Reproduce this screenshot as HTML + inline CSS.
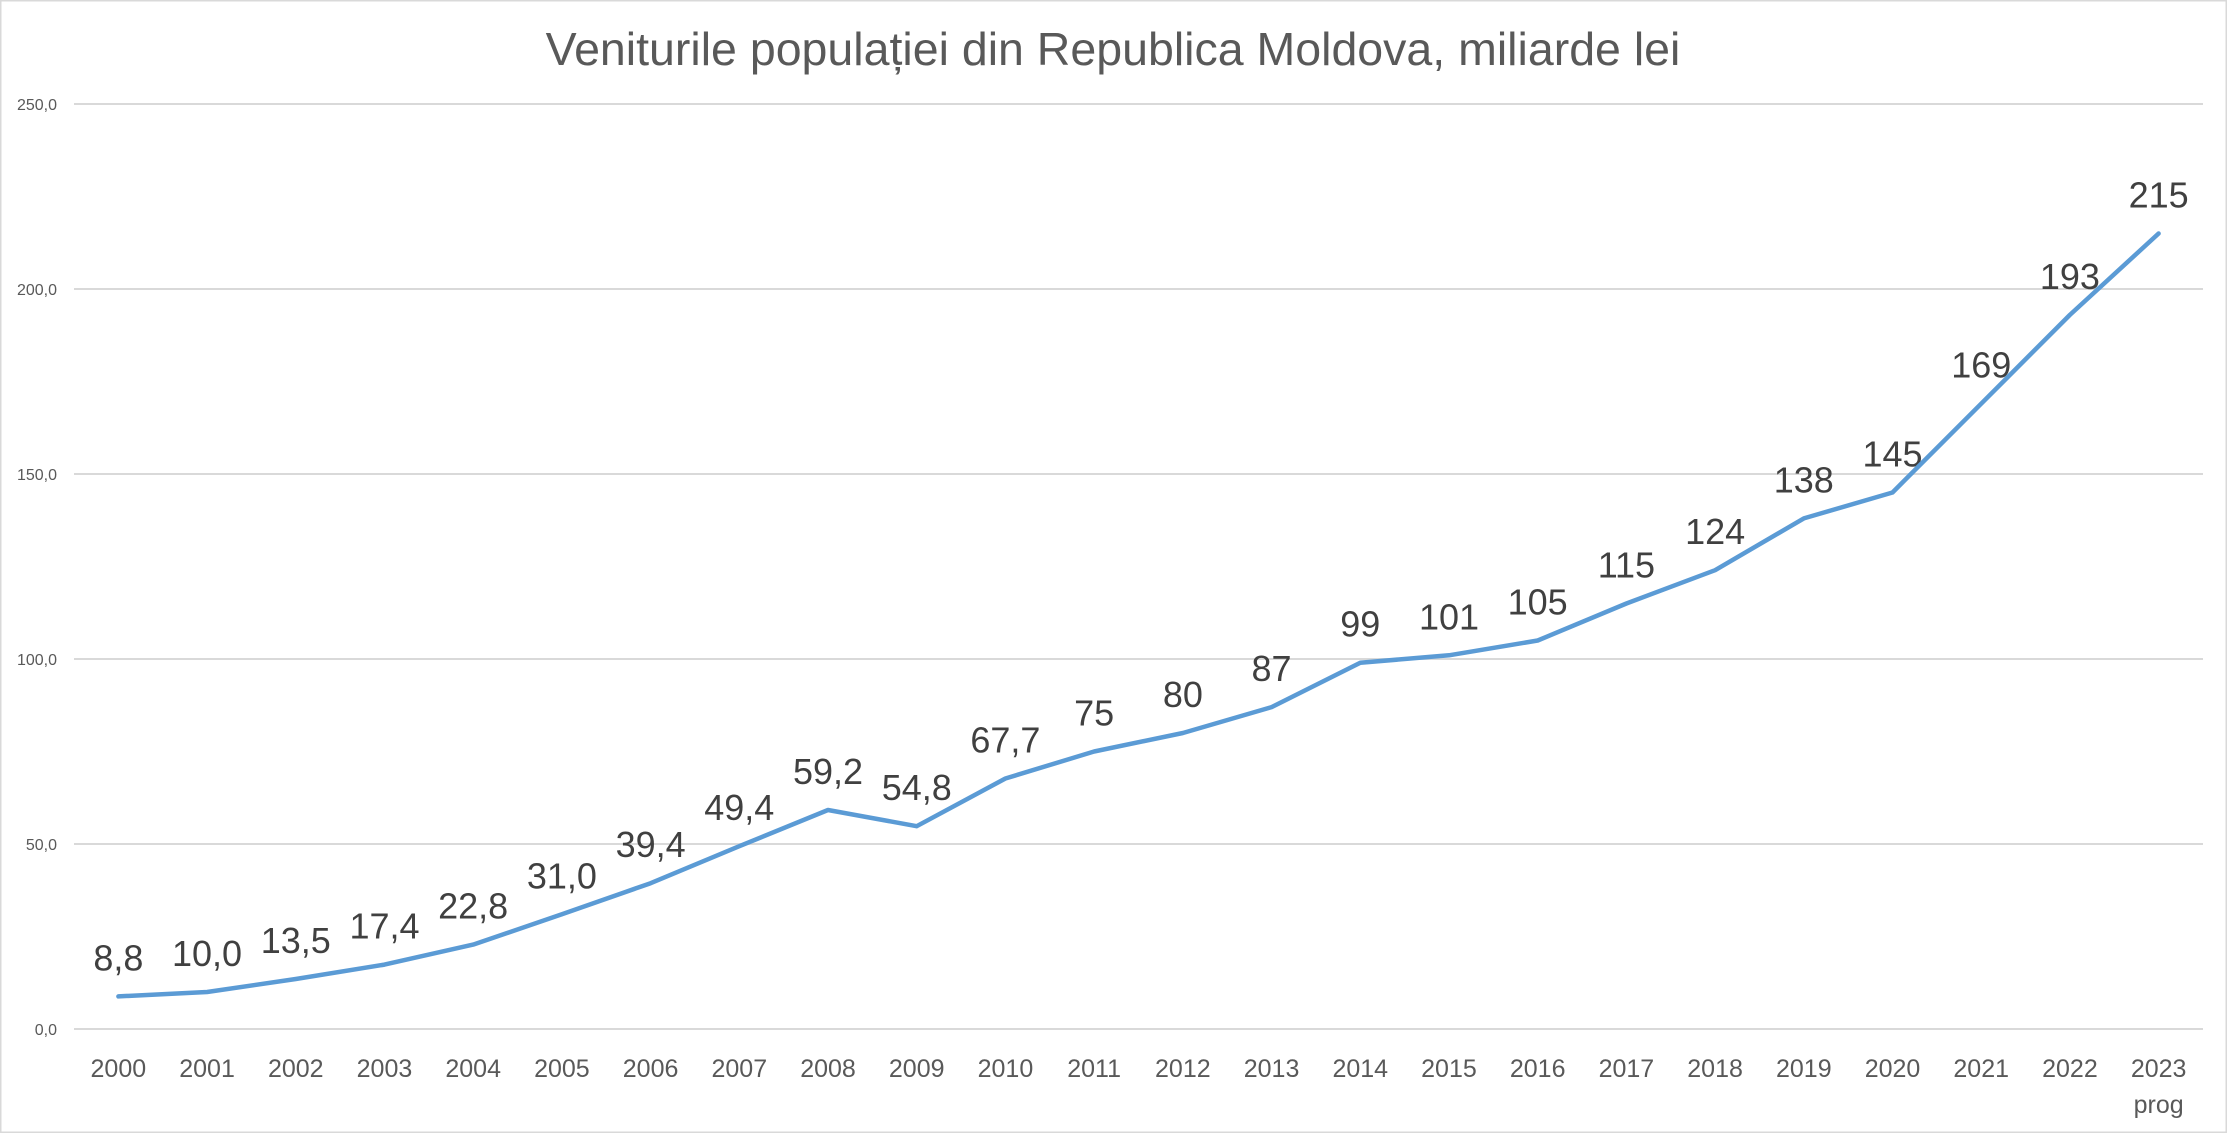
<!DOCTYPE html>
<html><head><meta charset="utf-8"><style>
html,body{margin:0;padding:0;background:#fff;}
svg{display:block;}
</style></head><body>
<svg width="2227" height="1133" viewBox="0 0 2227 1133" xmlns="http://www.w3.org/2000/svg" font-family="Liberation Sans, sans-serif">
<rect x="0.5" y="0.5" width="2226" height="1132" fill="#fff" stroke="#d9d9d9" stroke-width="2"/>
<text x="1113" y="65" text-anchor="middle" font-size="46.5" fill="#595959">Veniturile populației din Republica Moldova, miliarde lei</text>
<g stroke="#d9d9d9" stroke-width="2">
<line x1="74" y1="104" x2="2203" y2="104"/>
<line x1="74" y1="289" x2="2203" y2="289"/>
<line x1="74" y1="474" x2="2203" y2="474"/>
<line x1="74" y1="659" x2="2203" y2="659"/>
<line x1="74" y1="844" x2="2203" y2="844"/>
<line x1="74" y1="1029" x2="2203" y2="1029"/>
</g>
<g font-size="16" fill="#595959" text-anchor="end">
<text x="57" y="110">250,0</text>
<text x="57" y="295">200,0</text>
<text x="57" y="480">150,0</text>
<text x="57" y="665">100,0</text>
<text x="57" y="850">50,0</text>
<text x="57" y="1035">0,0</text>
</g>
<g id="c"></g>
<script>
var vals=[8.8,10.0,13.5,17.4,22.8,31.0,39.4,49.4,59.2,54.8,67.7,75,80,87,99,101,105,115,124,138,145,169,193,215];
var labs=["8,8","10,0","13,5","17,4","22,8","31,0","39,4","49,4","59,2","54,8","67,7","75","80","87","99","101","105","115","124","138","145","169","193","215"];
var ns="http://www.w3.org/2000/svg",g=document.getElementById("c");
var step=2129/24,pts=[];
function t(x,y,s,fs,col){var e=document.createElementNS(ns,"text");e.setAttribute("x",x);e.setAttribute("y",y);e.setAttribute("text-anchor","middle");e.setAttribute("font-size",fs);e.setAttribute("fill",col);e.textContent=s;g.appendChild(e);}
for(var i=0;i<24;i++){var x=74+step*(i+0.5),y=1029-vals[i]*3.7;pts.push(x.toFixed(1)+","+y.toFixed(1));
t(x,y-26,labs[i],36,"#404040");t(x,1077,String(2000+i),25,"#595959");}
t(74+step*23.5,1113,"prog",25,"#595959");
var p=document.createElementNS(ns,"polyline");p.setAttribute("points",pts.join(" "));p.setAttribute("fill","none");p.setAttribute("stroke","#5B9BD5");p.setAttribute("stroke-width","4.5");p.setAttribute("stroke-linejoin","round");p.setAttribute("stroke-linecap","round");g.appendChild(p);
</script>
</svg>
</body></html>
